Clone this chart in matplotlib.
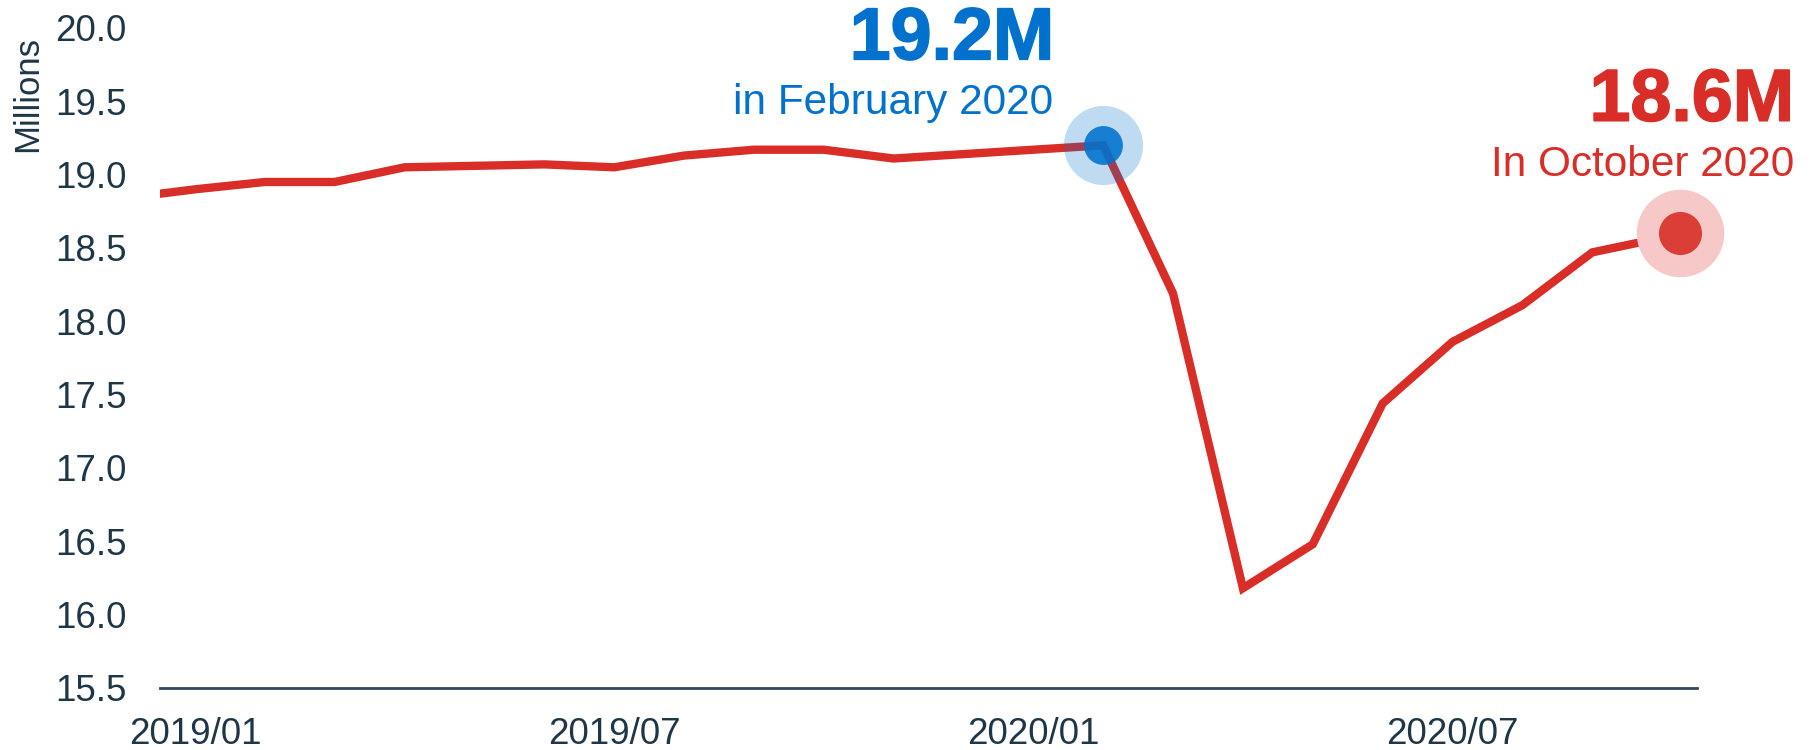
import matplotlib
matplotlib.use('Agg')
import matplotlib.pyplot as plt
import matplotlib.transforms as mtransforms
import matplotlib.patheffects as pe

plt.rcParams['font.family'] = ['Liberation Sans', 'DejaVu Sans']

# monthly values, millions
months = ['2018/12', '2019/01', '2019/02', '2019/03', '2019/04', '2019/05', '2019/06',
          '2019/07', '2019/08', '2019/09', '2019/10', '2019/11', '2019/12',
          '2020/01', '2020/02', '2020/03', '2020/04', '2020/05', '2020/06',
          '2020/07', '2020/08', '2020/09', '2020/10']
values = [18.84, 18.90, 18.95, 18.95, 19.05, 19.06, 19.07,
          19.05, 19.13, 19.17, 19.17, 19.11, 19.14,
          19.17, 19.20, 18.19, 16.18, 16.48, 17.44,
          17.86, 18.11, 18.47, 18.57]
tick_months = ['2019/01', '2019/07', '2020/01', '2020/07']
yticks = [15.5, 16.0, 16.5, 17.0, 17.5, 18.0, 18.5, 19.0, 19.5, 20.0]

peak_month, peak_value = '2020/02', 19.2
peak_big, peak_small = '19.2M', 'in February 2020'
last_month, last_value = '2020/10', 18.6
last_big, last_small = '18.6M', 'In October 2020'

red = '#D92D27'
blue = '#0072CE'
dark = '#1F3647'

x = list(range(len(months)))

fig = plt.figure(figsize=(18.16, 7.5), dpi=100)
ax = fig.add_axes([0.0881, 0.0827, 0.8464, 0.88])

ax.plot(x, values, color=red, lw=6, solid_joinstyle='miter', zorder=2)

# peak highlight
px = months.index(peak_month)
ax.plot(px, peak_value, 'o', ms=57, color=blue, alpha=0.25, mec='none', zorder=3, clip_on=False)
ax.plot(px, peak_value, 'o', ms=28, color=blue, alpha=0.88, mec='none', zorder=4, clip_on=False)

# last value highlight, drawn a little to the right of the line end
lx = months.index(last_month)
shift = mtransforms.offset_copy(ax.transData, fig=fig, x=18, y=0, units='dots')
ax.plot(lx, last_value, 'o', ms=63, color='#F6C9C8', mec='none', zorder=3,
        transform=shift, clip_on=False)
ax.plot(lx, last_value, 'o', ms=31, color='#DB3E37', mec='none', zorder=4,
        transform=shift, clip_on=False)

heavy_blue = [pe.withStroke(linewidth=1.2, foreground=blue)]
heavy_red = [pe.withStroke(linewidth=1.2, foreground=red)]

ax.annotate(peak_big, (px, peak_value), xytext=(-49, 86), textcoords='offset pixels',
            ha='right', va='baseline', fontsize=53, fontweight='bold', color=blue,
            annotation_clip=False, path_effects=heavy_blue)
ax.annotate(peak_small, (px, peak_value), xytext=(-50, 31), textcoords='offset pixels',
            ha='right', va='baseline', fontsize=30.5, color=blue, annotation_clip=False)
ax.annotate(last_big, (lx, values[lx]), xytext=(132, 117), textcoords='offset pixels',
            ha='right', va='baseline', fontsize=53, fontweight='bold', color=red,
            annotation_clip=False, path_effects=heavy_red)
ax.annotate(last_small, (lx, values[lx]), xytext=(132, 62), textcoords='offset pixels',
            ha='right', va='baseline', fontsize=30.5, color=red, annotation_clip=False)

ax.set_xlim(0.5, len(months) - 0.5)
ax.set_ylim(15.5, 20.0)
ax.set_xticks([months.index(m) for m in tick_months])
ax.set_xticklabels(tick_months)
ax.set_yticks(yticks)
ax.set_yticklabels(['{:.1f}'.format(v) for v in yticks])
ax.tick_params(axis='both', length=0, labelsize=26.5, colors=dark)
ax.tick_params(axis='y', pad=24)
ax.tick_params(axis='x', pad=21)

for s in ['top', 'right', 'left']:
    ax.spines[s].set_visible(False)
ax.spines['bottom'].set_color('#34495A')
ax.spines['bottom'].set_linewidth(2)

fig.text(28 / 1816, 1 - 94 / 750, 'Millions', rotation=90, ha='center', va='center',
         fontsize=25, color=dark)

fig.savefig('out.png', dpi=100, facecolor='white')
